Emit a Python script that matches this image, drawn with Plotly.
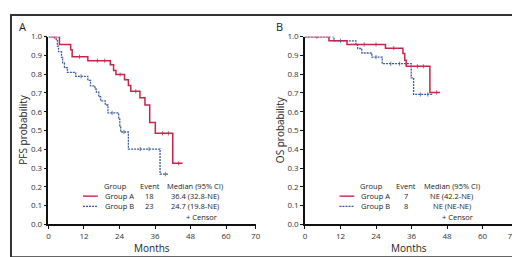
import plotly.graph_objects as go

# ---- data ----
pfs_a_t = [0, 3.7, 7.5, 8.0, 13.3, 20.9, 22.0, 22.8, 25.7, 27.0, 27.8, 30.9, 32.6, 34.2, 36.1, 42.0, 45.3]
pfs_a_s = [1.0, 0.959, 0.93, 0.893, 0.872, 0.85, 0.82, 0.798, 0.77, 0.74, 0.709, 0.675, 0.636, 0.543, 0.485, 0.325, 0.325]
pfs_b_t = [0, 2.6, 3.0, 3.4, 4.4, 4.8, 5.4, 6.4, 9.2, 13.3, 14.2, 15.7, 16.2, 17.0, 17.6, 19.2, 20.1, 23.7, 24.1, 24.4, 27.0, 37.7, 40.7]
pfs_b_s = [1.0, 0.98, 0.95, 0.92, 0.89, 0.86, 0.835, 0.81, 0.789, 0.767, 0.738, 0.72, 0.705, 0.68, 0.658, 0.636, 0.594, 0.56, 0.525, 0.492, 0.401, 0.267, 0.267]
os_a_t = [0, 8.1, 14.2, 27.2, 33.1, 33.7, 34.2, 42.2, 45.6]
os_a_s = [1.0, 0.978, 0.959, 0.939, 0.91, 0.874, 0.842, 0.703, 0.703]
os_b_t = [0, 9.8, 17.2, 17.8, 19.2, 22.6, 26.1, 35.9, 36.7, 43.1]
os_b_s = [1.0, 0.978, 0.955, 0.937, 0.913, 0.891, 0.856, 0.78, 0.692, 0.692]

pfs_a_cens_t = [2.0, 10.5, 16.5, 19.0, 24.2, 29.5, 38.5, 40.5, 44.0]
pfs_a_cens_s = [1.0, 0.893, 0.872, 0.872, 0.798, 0.709, 0.485, 0.485, 0.325]
pfs_b_cens_t = [11.0, 21.5, 25.5, 31.0, 34.0, 39.5]
pfs_b_cens_s = [0.789, 0.594, 0.492, 0.401, 0.401, 0.267]
os_a_cens_t = [4.0, 20.0, 24.0, 30.0, 38.0, 40.0, 44.5]
os_a_cens_s = [1.0, 0.959, 0.959, 0.939, 0.842, 0.842, 0.703]
os_b_cens_t = [12.0, 24.0, 29.0, 32.0, 39.0, 41.5]
os_b_cens_s = [0.978, 0.891, 0.856, 0.856, 0.692, 0.692]

x_ticks = [0, 12, 24, 36, 48, 60, 70]
y_ticks = [0.0, 0.1, 0.2, 0.3, 0.4, 0.5, 0.6, 0.7, 0.8, 0.9, 1.0]

groups = ["Group A", "Group B"]
pfs_events = ["18", "23"]
pfs_medians = ["36.4 (32.8-NE)", "24.7 (19.8-NE)"]
os_events = ["7", "8"]
os_medians = ["NE (42.2-NE)", "NE (NE-NE)"]

RED = "#c4264b"
BLUE = "#3d5a99"
W, H = 520, 257
FONT = "Open Sans"

def px(x):
    return x / W

def py(y):
    return 1 - y / H

fig = go.Figure()

def add_panel(xa, ya, at, as_, bt, bs, act, acs, bct, bcs):
    fig.add_trace(go.Scatter(x=bt, y=bs, mode="lines", line=dict(color=BLUE, width=1.3, dash="2px,1px", shape="hv"),
                             xaxis=xa, yaxis=ya, showlegend=False, hoverinfo="skip"))
    fig.add_trace(go.Scatter(x=at, y=as_, mode="lines", line=dict(color=RED, width=1.5, shape="hv"),
                             xaxis=xa, yaxis=ya, showlegend=False, hoverinfo="skip"))
    fig.add_trace(go.Scatter(x=bct, y=bcs, mode="markers", marker=dict(symbol="line-ns", size=3, line=dict(color=BLUE, width=0.8)),
                             xaxis=xa, yaxis=ya, showlegend=False, hoverinfo="skip"))
    fig.add_trace(go.Scatter(x=act, y=acs, mode="markers", marker=dict(symbol="line-ns", size=3, line=dict(color=RED, width=0.8)),
                             xaxis=xa, yaxis=ya, showlegend=False, hoverinfo="skip"))

add_panel("x", "y", pfs_a_t, pfs_a_s, pfs_b_t, pfs_b_s, pfs_a_cens_t, pfs_a_cens_s, pfs_b_cens_t, pfs_b_cens_s)
add_panel("x2", "y2", os_a_t, os_a_s, os_b_t, os_b_s, os_a_cens_t, os_a_cens_s, os_b_cens_t, os_b_cens_s)

axis_common = dict(showgrid=False, zeroline=False, showline=True, linecolor="#111", linewidth=1.5,
                   ticks="outside", ticklen=3, tickwidth=1, tickcolor="#111",
                   tickfont=dict(family=FONT, size=8, color="#333"))

ydom = [py(219.7), py(23.7)]
fig.update_layout(
    width=W, height=H, margin=dict(l=0, r=0, t=0, b=0),
    paper_bgcolor="white", plot_bgcolor="white",
    xaxis=dict(domain=[px(39), px(249)], range=[0, 70], tickvals=x_ticks, anchor="y", **axis_common),
    yaxis=dict(domain=ydom, range=[0, 1.0], tickvals=y_ticks, tickformat=".1f", anchor="x", **axis_common),
    xaxis2=dict(domain=[px(299), px(509)], range=[0, 70], tickvals=x_ticks, anchor="y2", **axis_common),
    yaxis2=dict(domain=ydom, range=[0, 1.0], tickvals=y_ticks, tickformat=".1f", anchor="x2", **axis_common),
)

ann = []
def text(x, y, s, size=8, xanchor="center", angle=0):
    ann.append(dict(x=px(x), y=py(y), xref="paper", yref="paper", text=s, showarrow=False,
                    xanchor=xanchor, yanchor="middle", textangle=angle,
                    font=dict(family=FONT, size=size, color="#222")))

shapes = []
for off, label, ytitle, events, medians in [(0, "A", "PFS probability", pfs_events, pfs_medians),
                                               (260, "B", "OS probability", os_events, os_medians)]:
    text(off + 13, 13, label, size=11)
    text(off + 13, 121, ytitle, size=10, angle=-90)
    text(off + 144, 244, "Months", size=10)
    text(off + 106.7, 179.3, "Group", size=7.5)
    text(off + 141.7, 179.3, "Event", size=7.5)
    text(off + 188, 179.3, "Median (95% CI)", size=7.5)
    for i, (g, e, m) in enumerate(zip(groups, events, medians)):
        yy = 190.3 + i * 10.7
        text(off + 94, yy, g, size=7.5, xanchor="left")
        text(off + 141.7, yy, e, size=7.5)
        text(off + 188, yy, m, size=7.5)
        shapes.append(dict(type="line", xref="paper", yref="paper", x0=px(off + 74), x1=px(off + 89),
                           y0=py(yy), y1=py(yy),
                           line=dict(color=RED if i == 0 else BLUE, width=1.4 if i == 0 else 1.2,
                                     dash="solid" if i == 0 else "2px,1px")))
    text(off + 211.7, 212, "+ Censor", size=7.5, xanchor="right")

shapes.append(dict(type="rect", xref="paper", yref="paper", x0=px(1), x1=px(519), y0=py(254), y1=py(1),
                   line=dict(color="#333", width=2)))

fig.update_layout(annotations=ann, shapes=shapes)
fig.write_html("out.html")
